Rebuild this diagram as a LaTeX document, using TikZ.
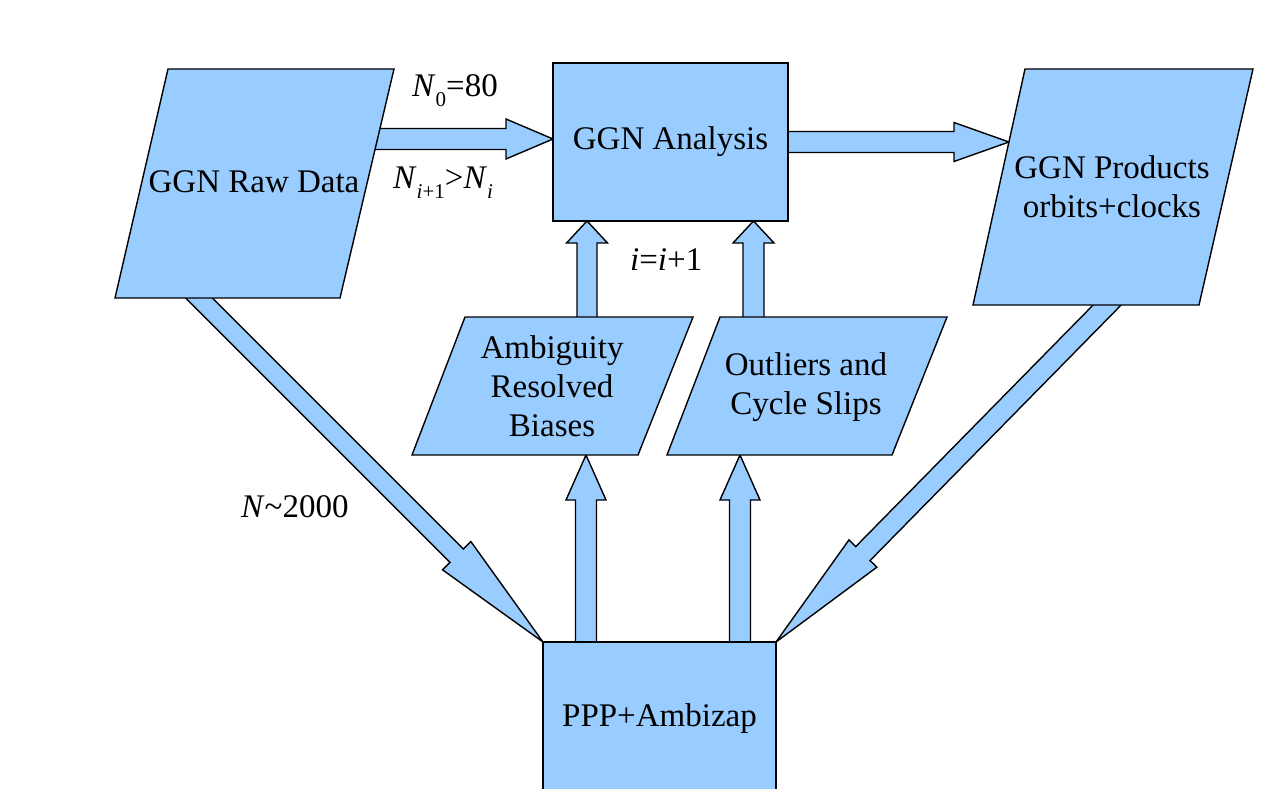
\documentclass[tikz,border=0pt]{standalone}
\usepackage{fontspec}
\setmainfont{Liberation Serif}
\usetikzlibrary{calc}
\definecolor{boxblue}{HTML}{99CCFF}

\tikzset{
  outlined/.style={fill=boxblue, draw=black, line width=1.4pt, line join=miter},
  rectbox/.style={outlined, rectangle, inner sep=0pt, align=center,
    font=\fontsize{33}{39}\selectfont},
  boxtext/.style={inner sep=0pt, align=center, font=\fontsize{33}{39}\selectfont},
  flowlabel/.style={inner sep=0pt, anchor=base west, font=\fontsize{33}{39}\selectfont},
}

% subscript in text font
\newcommand\lowsub[1]{\raisebox{-10pt}{\fontsize{21}{21}\selectfont #1}}

% block arrow: #1 start, #2 tip, #3 shaft half width, #4 head half width, #5 head length
\newcommand\fatarrow[5]{%
  \coordinate (fa-h) at ($(#2)!#5!(#1)$);
  \draw[outlined] ($(#1)!#3!90:(#2)$) -- ($(fa-h)!#3!90:(#2)$) -- ($(fa-h)!#4!90:(#2)$)
    -- (#2) -- ($(fa-h)!#4!-90:(#2)$) -- ($(fa-h)!#3!-90:(#2)$) -- ($(#1)!#3!-90:(#2)$) -- cycle;}

\begin{document}
\begin{tikzpicture}[x=1pt, y=-1pt]
\clip (0,0) rectangle (1261,789);
\fill[white] (0,0) rectangle (1261,789);

% connection points
\coordinate (raw-e) at (372,139);
\coordinate (ana-w) at (553,139);
\coordinate (ana-e) at (780,142);
\coordinate (prod-w) at (1009,142);
\coordinate (amb-n) at (587,325);
\coordinate (ana-s1) at (587,221);
\coordinate (out-n) at (753.5,325);
\coordinate (ana-s2) at (753.5,221);
\coordinate (ppp-n1) at (586,650);
\coordinate (amb-s) at (586,455);
\coordinate (ppp-n2) at (740,650);
\coordinate (out-s) at (740,455);
\coordinate (raw-s) at (191,290);
\coordinate (ppp-nw) at (543,642);
\coordinate (prod-s) at (1115,297);
\coordinate (ppp-ne) at (776,642);

% arrows (drawn beneath the boxes)
\fatarrow{raw-e}{ana-w}{10.5pt}{20pt}{47pt}
\fatarrow{ana-e}{prod-w}{10.5pt}{19.5pt}{55pt}
\fatarrow{amb-n}{ana-s1}{10pt}{20.5pt}{22pt}
\fatarrow{out-n}{ana-s2}{10.5pt}{20.5pt}{22pt}
\fatarrow{ppp-n1}{amb-s}{10.5pt}{20pt}{45pt}
\fatarrow{ppp-n2}{out-s}{10.5pt}{20pt}{45pt}
\fatarrow{raw-s}{ppp-nw}{9.5pt}{20pt}{122pt}
\fatarrow{prod-s}{ppp-ne}{10pt}{19.5pt}{124pt}

% data boxes
\draw[outlined] (168,69) -- (394,69) -- (340,298) -- (115,298) -- cycle;
\node[boxtext] (raw) at (254,182) {GGN Raw Data};

\draw[outlined] (1025,69) -- (1253,69) -- (1199,305) -- (973,305) -- cycle;
\node[boxtext] (prod) at (1112,187) {GGN Products\\orbits+clocks};

\draw[outlined] (465,317) -- (693,317) -- (638,455) -- (412,455) -- cycle;
\node[boxtext] (amb) at (552,386) {Ambiguity\\Resolved\\Biases};

\draw[outlined] (720,317) -- (947,317) -- (892,455) -- (667,455) -- cycle;
\node[boxtext] (out) at (806,387) {Outliers and\\Cycle Slips};

% processing boxes
\node[rectbox, minimum width=235pt, minimum height=158pt] (ana) at (670.5,142) {GGN Analysis};
\node[rectbox, minimum width=233pt, minimum height=154pt] (ppp) at (659.5,719) {PPP+Ambizap};

% labels
\node[flowlabel] (n0) at (412,97) {\textit{N}\lowsub{0}=80};
\node[flowlabel] (ni) at (393,188) {\textit{N}\lowsub{\textit{i}+1}>\textit{N}\lowsub{\textit{i}}};
\node[flowlabel] (ii) at (630,270) {\textit{i}=\textit{i}+1};
\node[flowlabel] (n2000) at (241,517) {\textit{N}\textasciitilde2000};
\end{tikzpicture}
\end{document}
